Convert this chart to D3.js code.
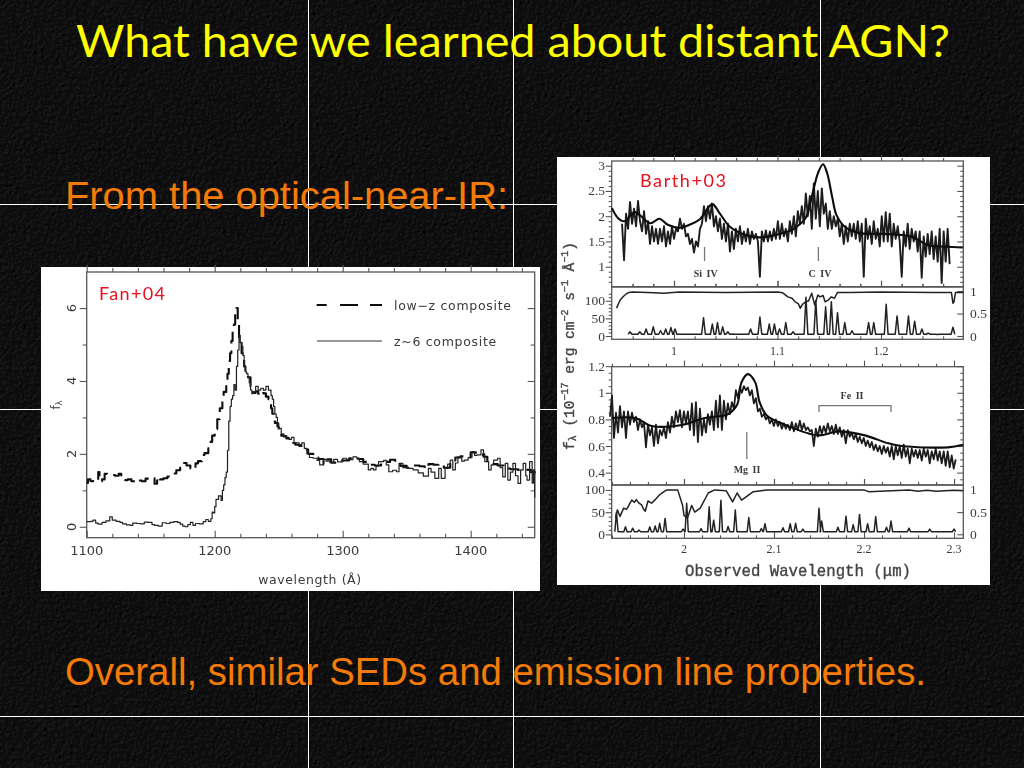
<!DOCTYPE html>
<html><head><meta charset="utf-8">
<script src="https://cdn.jsdelivr.net/npm/d3@7"></script>
<style>html,body{margin:0;padding:0;background:#0a0a0a;overflow:hidden}svg{display:block}</style>
</head><body>
<script>
// ---------- Fan+04: composites ----------
const z6Wave=[1100,1103,1105,1107,1109,1112,1115,1118,1120,1123,1126,1128,1131,1134,1136,1139,1142,1145,1148,1151,1153,1156,1159,1162,1165,1168,1171,1173,1175,1177,1179,1181,1183,1185,1188,1191,1193,1195,1197,1198,1199,1200,1201,1203,1205,1206,1207,1208,1209,1210,1211,1212,1213,1214,1215,1216,1217,1218,1219,1220,1221,1222,1223,1224,1225,1226,1227,1228,1229,1230,1232,1234,1236,1238,1240,1242,1244,1245,1246,1247,1248,1249,1250,1252,1254,1256,1258,1260,1262,1264,1266,1268,1270,1272,1274,1277,1280,1282,1285,1287,1290,1293,1296,1300,1303,1308,1311,1313,1316,1320,1322,1324,1326,1328,1332,1334,1336,1339,1342,1344,1347,1351,1355,1359,1363,1367,1369,1372,1375,1377,1380,1382,1384,1386,1388,1390,1393,1395,1398,1401,1403,1405,1408,1410,1411,1414,1416,1418,1421,1423,1425,1427,1429,1431,1433,1435,1437,1439,1441,1443,1444,1446,1448,1449,1450];
const z6Flux=[.14,.15,.18,.1,.07,.12,.16,.27,.18,.15,.12,.08,.05,.04,.1,.09,.08,.13,.12,.06,.04,.02,.11,.09,.12,.14,.12,.07,.02,0,.06,.12,.04,.09,.08,.14,.2,.15,.22,.4,.38,.55,.75,.85,.72,1,1.15,1.35,1.5,2.1,2.9,3.3,3.5,3.6,3.9,3.75,4.4,4.85,5.25,5.05,4.95,4.7,4.4,4.25,4.2,4.1,3.95,3.75,3.65,3.7,3.85,3.75,3.8,3.75,3.85,3.75,3.6,3.5,3.3,3.1,3,2.85,2.7,2.55,2.5,2.45,2.4,2.45,2.3,2.3,2.25,2.3,2.15,2,1.9,1.88,1.82,1.7,1.85,1.8,1.76,1.85,1.78,1.88,1.84,1.92,1.88,1.79,1.72,1.56,1.6,1.56,1.66,1.79,1.82,1.7,1.51,1.55,1.51,1.74,1.62,1.6,1.56,1.48,1.39,1.6,1.5,1.33,1.6,1.33,1.6,1.72,1.83,1.56,1.75,1.92,1.8,1.83,1.9,2.06,1.96,1.97,2.11,2,1.79,1.56,1.7,1.83,1.88,1.62,1.37,1.74,1.28,1.5,1.74,1.4,1.19,1.56,1.74,1.4,1.28,1.79,1.2,1.56,.8];
const lowZWave=[1100,1101,1103,1105,1107,1109,1110,1112,1114,1116,1119,1122,1125,1127,1130,1132,1135,1138,1140,1143,1146,1149,1151,1153,1155,1157,1160,1163,1166,1168,1170,1173,1176,1178,1181,1183,1185,1187,1190,1192,1195,1196,1198,1200,1202,1204,1206,1207,1209,1210,1211,1212,1213,1214,1215,1216,1217,1218,1219,1220,1221,1222,1223,1224,1226,1228,1230,1232,1234,1236,1238,1240,1242,1244,1245,1246,1247,1249,1250,1252,1254,1256,1258,1260,1263,1266,1270,1273,1277,1281,1285,1288,1291,1296,1300,1305,1309,1312,1316,1320,1325,1330,1334,1337,1341,1345,1350,1354,1360,1364,1367,1371,1375,1379,1384,1388,1392,1396,1400,1404,1407,1410,1413,1417,1421,1426,1431,1437,1442,1447,1450];
const lowZFlux=[1.2,1.3,1.25,1.3,1.28,1.5,1.25,1.3,1.45,1.42,1.42,1.4,1.45,1.33,1.28,1.3,1.25,1.22,1.27,1.25,1.32,1.35,1.33,1.18,1.36,1.3,1.33,1.38,1.42,1.46,1.55,1.62,1.75,1.68,1.6,1.58,1.74,1.8,1.97,2.02,2.15,2.33,2.5,2.68,2.95,3.25,3.45,3.7,4.03,4.2,4.55,4.76,5.1,5.4,5.55,5.85,6,5.6,5.2,5.05,4.76,4.6,4.4,4.28,4.1,3.85,3.67,3.72,3.65,3.72,3.66,3.57,3.5,3.25,3.1,3,2.85,2.75,2.6,2.5,2.48,2.42,2.35,2.3,2.25,2.22,2.12,2,1.9,1.86,1.72,1.85,1.76,1.82,1.82,1.88,1.9,1.86,1.78,1.7,1.68,1.75,1.78,1.84,1.78,1.67,1.62,1.68,1.66,1.6,1.72,1.7,1.72,1.62,1.82,1.9,1.93,1.9,2.04,2,1.98,1.92,1.8,1.72,1.68,1.6,1.58,1.56,1.56,1.5,1.46];
const fanXMajor=[1100,1200,1300,1400];
const fanXMinor=[1120,1140,1160,1180,1220,1240,1260,1280,1320,1340,1360,1380,1420,1440];
const fanYMajor=[0,2,4,6];
const fanYMinor=[1,3,5];

// ---------- Barth+03: C IV / Si IV window ----------
const civModelWave=[.94,.946,.952,.962,.967,.977,.986,.994,1.006,1.015,1.025,1.037,1.044,1.054,1.069,1.083,1.112,1.117,1.127,1.134,1.139,1.144,1.148,1.153,1.157,1.165,1.178,1.204,1.23,1.245,1.269,1.279];
const civModelFlux=[2.16,1.96,1.9,2.08,2.02,1.86,1.95,1.83,1.77,1.83,1.94,2.24,2.06,1.79,1.63,1.58,1.71,1.77,1.96,2.46,2.85,3.03,2.85,2.36,2.02,1.79,1.67,1.65,1.59,1.43,1.39,1.38];
const civSpecStart=.9498, civSpecStep=.00193;
const civSpec=[1.85,1.13,2.05,1.75,2.28,1.85,2.15,1.8,2.3,1.9,1.7,2.1,1.65,1.9,1.45,1.8,1.5,1.75,1.45,1.75,1.5,1.8,1.4,1.7,1.45,1.8,1.55,1.75,1.7,1.95,1.75,1.85,1.6,1.65,1.45,1.55,1.28,1.5,1.4,1.75,1.85,2.2,1.9,2.2,1.95,2.25,1.8,2,1.7,1.95,1.55,1.85,1.5,1.85,1.3,1.7,1.35,1.75,1.5,1.8,1.45,1.7,1.5,1.75,1.45,1.7,1.55,1.65,1.5,.8,1.7,1.5,1.72,1.5,1.7,1.52,1.75,1.55,1.9,1.55,1.85,1.6,1.75,1.5,1.9,1.65,2,1.6,2.1,1.85,2.2,1.85,2.45,2,2.4,1.75,2.65,1.95,2.5,1.8,2.55,2.05,2.25,1.75,2.1,1.75,2,1.8,1.95,1.6,1.85,1.45,1.8,1.5,1.85,1.6,1.85,1.55,1.9,1.5,1.85,.8,1.95,1.55,1.8,1.45,1.9,1.55,1.75,1.4,2,1.5,2.08,1.5,2.05,1.4,1.85,1.55,1.8,1.5,.8,1.7,1.4,1.85,1.35,1.75,1.5,1.7,1.3,1.7,.78,1.6,1.2,1.65,1.25,1.7,1.15,1.6,1.1,1.75,.68,1.7,1.1,1.75,1.05];
const civTransWave=[.9445,.946,.948,.951,.9535,.9565,.96,.975,.99,1.005,1.05,1.1,1.105,1.11,1.114,1.117,1.12,1.122,1.124,1.127,1.13,1.133,1.136,1.139,1.141,1.144,1.146,1.149,1.152,1.155,1.158,1.17,1.2,1.25,1.268,1.2695,1.2705,1.272,1.2795];
const civTrans=[.62,.7,.8,.88,.93,.97,.98,.97,.95,.98,.97,.98,.96,.87,.84,.76,.72,.62,.7,.76,.78,.95,.69,.91,.87,.9,.76,.8,.87,.84,.97,.97,.98,.97,.97,.73,.76,.97,.97];
const civSnWave=[.9575,.967,.973,.98,.987,.992,.997,1.001,1.0285,1.037,1.042,1.047,1.052,1.057,1.074,1.083,1.092,1.097,1.102,1.108,1.115,1.1275,1.137,1.1465,1.152,1.158,1.165,1.172,1.188,1.193,1.205,1.2155,1.2265,1.2325,1.2395,1.2455,1.2545,1.265,1.2695];
const civSn=[12,12,20,26,15,20,24,20,52,34,38,26,12,6,20,54,34,34,20,38,12,110,100,83,97,66,38,15,38,38,90,57,57,42,20,8,4,5,25];
const civXMajor=[1,1.1,1.2];
const civXMinor=[.96,.98,1.02,1.04,1.06,1.08,1.12,1.14,1.16,1.18,1.22,1.24,1.26];
const civYMajor=[1,1.5,2,2.5,3];
const civYMinor=[.7,.8,.9,1.1,1.2,1.3,1.4,1.6,1.7,1.8,1.9,2.1,2.2,2.3,2.4,2.6,2.7,2.8,2.9];
const snMajor=[0,50,100];
const snMinor=[10,20,30,40,60,70,80,90,110,120];
const transMajor=[0,.5,1];

// ---------- Barth+03: Mg II window ----------
const mgModelWave=[1.92,1.946,1.964,1.999,2.023,2.049,2.059,2.064,2.071,2.079,2.084,2.092,2.112,2.149,2.171,2.201,2.227,2.242,2.293,2.31];
const mgModelFlux=[.81,.81,.75,.76,.81,.84,.91,1.08,1.14,1.08,.93,.83,.76,.68,.71,.68,.62,.6,.59,.61];
const mgSpecStart=1.9178, mgSpecStep=.00222;
const mgSpec=[.82,.98,.66,.85,.7,.9,.74,.86,.66,.86,.76,.85,.78,.82,.72,.8,.74,.78,.59,.76,.68,.74,.6,.76,.62,.72,.68,.74,.66,.78,.7,.82,.74,.86,.78,.87,.74,.86,.77,.86,.72,.92,.68,.93,.63,.88,.68,.8,.7,.84,.76,.86,.72,.94,.74,.98,.72,.94,.8,.92,.84,.93,.88,1.02,.96,1.04,1,1.05,1.02,1.04,.98,1.02,.92,.96,.86,.88,.82,.84,.8,.82,.77,.8,.75,.8,.75,.78,.73,.77,.73,.76,.72,.78,.71,.77,.72,.79,.72,.77,.72,.74,.71,.72,.6,.73,.67,.75,.69,.75,.7,.77,.71,.75,.69,.76,.69,.74,.67,.72,.62,.72,.67,.7,.65,.69,.63,.67,.62,.66,.6,.64,.59,.63,.57,.61,.56,.6,.54,.6,.55,.59,.52,.6,.5,.6,.53,.6,.51,.61,.52,.58,.47,.58,.52,.57,.51,.57,.49,.58,.52,.57,.47,.56,.5,.58,.49,.56,.47,.56,.45,.56,.44,.53,.43,.5];
const mgTransWave=[1.924,1.926,1.929,1.931,1.933,1.936,1.938,1.94,1.942,1.945,1.947,1.95,1.953,1.955,1.957,1.96,1.964,1.968,1.973,1.977,1.981,1.993,1.9985,2,2.004,2.0085,2.012,2.018,2.027,2.034,2.047,2.054,2.059,2.064,2.077,2.092,2.2,2.205,2.25,2.26,2.27,2.28,2.3,2.31];
const mgTrans=[.37,.55,.4,.5,.59,.56,.62,.7,.77,.72,.78,.7,.66,.57,.52,.75,.7,.78,.89,.95,1,1,.65,.42,.37,.65,.5,.59,.93,1,.98,.73,.93,.77,.96,1,1,.96,1,.97,.99,.97,.99,.98];
const mgSnWave=[1.925,1.935,1.943,1.95,1.962,1.968,1.973,1.979,1.999,2.003,2.019,2.028,2.033,2.041,2.049,2.057,2.072,2.086,2.09,2.11,2.118,2.124,2.132,2.15,2.153,2.171,2.18,2.188,2.195,2.204,2.213,2.225,2.23,2.25,2.273,2.3];
const mgSn=[50,17,14,10,17,19,25,36,12,70,13,62,32,77,18,55,38,13,24,15,24,25,12,59,30,16,41,22,45,24,40,16,30,14,12,12];
const mgXMajor=[2,2.1,2.2,2.3];
const mgXMinor=[1.92,1.94,1.96,1.98,2.02,2.04,2.06,2.08,2.12,2.14,2.16,2.18,2.22,2.24,2.26,2.28];
const mgYMajor=[.4,.6,.8,1,1.2];
const mgYMinor=[.35,.45,.5,.55,.65,.7,.75,.85,.9,.95,1.05,1.1,1.15];

const titleText="What have we learned about distant AGN?";
const line1Text="From the optical-near-IR:";
const line2Text="Overall, similar SEDs and emission line properties.";

// ---------- page ----------
const W=1024,H=768;
const svg=d3.select("body").append("svg").attr("width",W).attr("height",H);
const defs=svg.append("defs");
const tex=defs.append("filter").attr("id","leather").attr("x",0).attr("y",0).attr("width","100%").attr("height","100%");
tex.append("feTurbulence").attr("type","fractalNoise").attr("baseFrequency",.28).attr("numOctaves",2).attr("seed",4).attr("result","n");
const dl=tex.append("feDiffuseLighting").attr("in","n").attr("surfaceScale",2.2).attr("diffuseConstant",.9).attr("lighting-color","#141414");
dl.append("feDistantLight").attr("azimuth",45).attr("elevation",50);
defs.append("filter").attr("id","soft").attr("x","-2%").attr("y","-2%").attr("width","104%").attr("height","104%")
  .append("feGaussianBlur").attr("stdDeviation",.55);

svg.append("rect").attr("width",W).attr("height",H).attr("fill","#0b0b0b").attr("filter","url(#leather)");
[308,513,820].forEach(x=>svg.append("line").attr("x1",x+.5).attr("x2",x+.5).attr("y1",0).attr("y2",H).attr("stroke","#fff"));
[204,409,716].forEach(y=>svg.append("line").attr("y1",y+.5).attr("y2",y+.5).attr("x1",0).attr("x2",W).attr("stroke","#fff"));

svg.append("text").text(titleText).attr("x",76).attr("y",57).attr("fill","#ffff00")
  .attr("font-family","Lato").attr("font-size",44)
  .attr("textLength",874).attr("lengthAdjust","spacingAndGlyphs");
svg.append("text").text(line1Text).attr("x",65).attr("y",209).attr("fill","#f57a08")
  .attr("font-family","Liberation Sans").attr("font-size",38)
  .attr("textLength",443).attr("lengthAdjust","spacingAndGlyphs");
svg.append("text").text(line2Text).attr("x",65).attr("y",685).attr("fill","#f57a08")
  .attr("font-family","Liberation Sans").attr("font-size",38)
  .attr("textLength",861).attr("lengthAdjust","spacingAndGlyphs");

const inkAxis="#555";
function ticks(g,axisFn,scale,vals,len,translate){
  g.append("g").attr("transform",translate)
   .call(axisFn(scale).tickValues(vals).tickSize(-len).tickFormat(""))
   .call(s=>s.select(".domain").remove())
   .call(s=>s.selectAll("line").attr("stroke",inkAxis).attr("stroke-width",1.1));
}
function box(g,x,y,major,minor,xMaj,xMin,yMaj,yMin,rightY,rightMaj){
  const [x0,x1]=x.range(),[y1,y0]=y.range();
  g.append("rect").attr("x",x0).attr("y",y0).attr("width",x1-x0).attr("height",y1-y0)
   .attr("fill","none").attr("stroke",inkAxis).attr("stroke-width",1.3);
  ticks(g,d3.axisBottom,x,xMaj,major,`translate(0,${y1})`);
  ticks(g,d3.axisBottom,x,xMin,minor,`translate(0,${y1})`);
  ticks(g,d3.axisTop,x,xMaj,-major,`translate(0,${y0})`);
  ticks(g,d3.axisTop,x,xMin,-minor,`translate(0,${y0})`);
  ticks(g,d3.axisLeft,y,yMaj,-major,`translate(${x0},0)`);
  ticks(g,d3.axisLeft,y,yMin,-minor,`translate(${x0},0)`);
  ticks(g,d3.axisRight,rightY||y,rightMaj||yMaj,major,`translate(${x1},0)`);
  if(!rightY) ticks(g,d3.axisRight,y,yMin,minor,`translate(${x1},0)`);
}
const zip=(a,b)=>a.map((v,i)=>[v,b[i]]);
function draw(g,pts,x,y,curve,width,color,dash){
  const p=g.append("path").attr("fill","none").attr("stroke",color).attr("stroke-width",width)
   .attr("stroke-linejoin","round")
   .attr("d",d3.line().x(d=>x(d[0])).y(d=>y(d[1])).curve(curve)(pts));
  if(dash)p.attr("stroke-dasharray",dash);
  return p;
}
// an S/N trace: narrow peaks rising from a low floor
function snPts(w,v,floor,half){
  const out=[];
  w.forEach((a,i)=>{out.push([a-half,floor]);out.push([a,v[i]]);out.push([a+half,floor]);});
  return out;
}
function label(g,t,x,y,size,fam,anchor,rot){
  const n=g.append("text").text(t).attr("x",x).attr("y",y).attr("font-size",size).attr("font-family",fam)
   .attr("fill","#3a3a3a").attr("text-anchor",anchor||"middle").attr("dominant-baseline","central");
  if(rot)n.attr("transform",`rotate(${rot} ${x} ${y})`);
  return n;
}

// ---------- Fan panel ----------
svg.append("rect").attr("x",41).attr("y",267).attr("width",499).attr("height",324).attr("fill","#fff");
const fan=svg.append("g").attr("filter","url(#soft)");
const fx=d3.scaleLinear().domain([1100,1450]).range([86.7,534.7]);
const fy=d3.scaleLinear().domain([-.3,6.99]).range([537.7,272]);
box(fan,fx,fy,7,4,fanXMajor,fanXMinor,fanYMajor,fanYMinor);
draw(fan,zip(lowZWave,lowZFlux),fx,fy,d3.curveStepAfter,2.1,"#111","13 7");
draw(fan,zip(z6Wave,z6Flux),fx,fy,d3.curveStepAfter,1.2,"#222");
const fs="DejaVu Sans";
fanXMajor.forEach(v=>label(fan,v,fx(v),550,13,fs));
fanYMajor.forEach(v=>label(fan,v,72,fy(v),13,fs,"middle",-90));
label(fan,"wavelength (Å)",310,579,12.5,fs).attr("letter-spacing",.6);
const fl=label(fan,"f",56,405,11.5,fs,"middle",-90);
fl.append("tspan").text("λ").attr("font-size",8.5).attr("dy",3);
label(fan,"low−z composite",394,305,12.5,fs,"start").attr("letter-spacing",.7);
label(fan,"z~6 composite",394,341,12.5,fs,"start").attr("letter-spacing",.7);
const legendDash=[[316.7,326.7],[340,358],[370,382]];
legendDash.forEach(d=>fan.append("line").attr("x1",d[0]).attr("x2",d[1]).attr("y1",305).attr("y2",305).attr("stroke","#111").attr("stroke-width",2));
fan.append("line").attr("x1",317).attr("x2",382).attr("y1",341).attr("y2",341).attr("stroke","#333").attr("stroke-width",1.1);
svg.append("text").text("Fan+04").attr("x",99).attr("y",300).attr("fill","#e8101c").attr("font-family","Lato").attr("font-size",18).attr("textLength",66);

// ---------- Barth panel ----------
svg.append("rect").attr("x",557).attr("y",157).attr("width",433).attr("height",428).attr("fill","#fff");
const bar=svg.append("g").attr("filter","url(#soft)");
const X0=611.7,X1=963.3;
const cx=d3.scaleLinear().domain([.9398,1.2795]).range([X0,X1]);
const cy=d3.scaleLinear().domain([.604,3.093]).range([286.7,161]);
const csn=d3.scaleLinear().domain([-9.3,139]).range([339.3,287]);
const ctr=d3.scaleLinear().domain([-.073,1.09]).range([339.3,287]);
const mx=d3.scaleLinear().domain([1.9197,2.3103]).range([X0,X1]);
const my=d3.scaleLinear().domain([.307,1.196]).range([485,366.7]);
const msn=d3.scaleLinear().domain([-8.8,111.2]).range([538.3,485]);
const mtr=d3.scaleLinear().domain([-.09,1.11]).range([538.3,485]);

box(bar,cx,cy,6,3,civXMajor,civXMinor,civYMajor,civYMinor);
box(bar,cx,csn,6,3,civXMajor,civXMinor,snMajor,snMinor,ctr,transMajor);
box(bar,mx,my,6,3,mgXMajor,mgXMinor,mgYMajor,mgYMinor);
box(bar,mx,msn,6,3,mgXMajor,mgXMinor,snMajor,snMinor.slice(0,8),mtr,transMajor);

draw(bar,civSpec.map((v,i)=>[civSpecStart+i*civSpecStep,v]),cx,cy,d3.curveLinear,1.9,"#1c1c1c");
draw(bar,zip(civModelWave,civModelFlux),cx,cy,d3.curveCatmullRom,2.1,"#0c0c0c");
draw(bar,zip(civTransWave,civTrans),cx,ctr,d3.curveLinear,1.5,"#222");
draw(bar,snPts(civSnWave,civSn,5,.0018),cx,csn,d3.curveLinear,1.5,"#222");

draw(bar,mgSpec.map((v,i)=>[mgSpecStart+i*mgSpecStep,v]),mx,my,d3.curveLinear,1.8,"#1c1c1c");
draw(bar,zip(mgModelWave,mgModelFlux),mx,my,d3.curveCatmullRom,2.1,"#0c0c0c");
draw(bar,zip(mgTransWave,mgTrans),mx,mtr,d3.curveLinear,1.5,"#222");
draw(bar,snPts(mgSnWave,mgSn,6,.0018),mx,msn,d3.curveLinear,1.5,"#222");

const serif="Liberation Serif";
civYMajor.forEach(v=>label(bar,v,605,cy(v),13.5,serif,"end"));
snMajor.forEach(v=>label(bar,v,605,csn(v),13.5,serif,"end"));
transMajor.forEach(v=>label(bar,v,970,ctr(v),13.5,serif,"start"));
civXMajor.forEach(v=>label(bar,v,cx(v),351,12,serif));
mgYMajor.forEach(v=>label(bar,v,605,my(v),13.5,serif,"end"));
snMajor.forEach(v=>label(bar,v,605,msn(v),13.5,serif,"end"));
transMajor.forEach(v=>label(bar,v,970,mtr(v),13.5,serif,"start"));
mgXMajor.forEach(v=>label(bar,v,mx(v),549,12,serif));

label(bar,"Observed Wavelength (μm)",798,572,15.7,"Liberation Mono").attr("fill","#444").attr("stroke","#444").attr("stroke-width",.35);
const yl=label(bar,"",570,346,14.5,"Liberation Mono","middle",-90).attr("fill","#444").attr("stroke","#444").attr("stroke-width",.35);
yl.append("tspan").text("f");
yl.append("tspan").text("λ").attr("font-size",10).attr("dy",3);
yl.append("tspan").text(" (10").attr("dy",-3);
yl.append("tspan").text("−17").attr("font-size",10).attr("dy",-5);
yl.append("tspan").text(" erg cm").attr("dy",5);
yl.append("tspan").text("−2").attr("font-size",10).attr("dy",-5);
yl.append("tspan").text(" s").attr("dy",5);
yl.append("tspan").text("−1").attr("font-size",10).attr("dy",-5);
yl.append("tspan").text(" Å").attr("dy",5);
yl.append("tspan").text("−1").attr("font-size",10).attr("dy",-5);
yl.append("tspan").text(")").attr("dy",5);

const mark=(x1,y1,x2,y2)=>bar.append("line").attr("x1",x1).attr("y1",y1).attr("x2",x2).attr("y2",y2).attr("stroke","#777").attr("stroke-width",1.3);
mark(cx(1.0295),247,cx(1.0295),261); label(bar,"Si IV",705.7,273,10,serif).attr("font-weight","bold").attr("word-spacing",2);
mark(cx(1.1395),247,cx(1.1395),261); label(bar,"C IV",820,273,10,serif).attr("font-weight","bold").attr("word-spacing",2);
mark(mx(2.0698),432,mx(2.0698),459); label(bar,"Mg II",747,469,10,serif).attr("font-weight","bold").attr("word-spacing",2);
label(bar,"Fe II",852,395,10,serif).attr("font-weight","bold").attr("word-spacing",2);
bar.append("path").attr("fill","none").attr("stroke","#777").attr("stroke-width",1.3)
   .attr("d",d3.line()([[mx(2.15),412],[mx(2.15),405.7],[mx(2.23),405.7],[mx(2.23),412]]));
svg.append("text").text("Barth+03").attr("x",640).attr("y",187).attr("fill","#e8101c").attr("font-family","Lato").attr("font-size",18).attr("textLength",86);
</script>
</body></html>
